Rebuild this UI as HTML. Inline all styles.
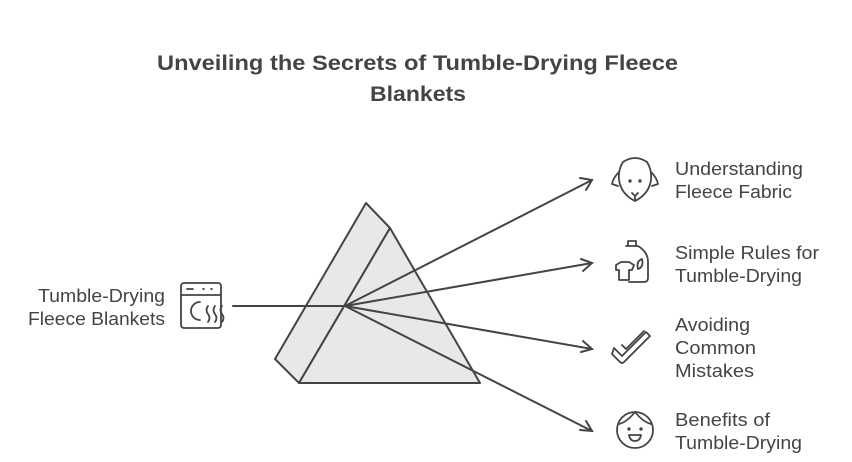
<!DOCTYPE html>
<html><head><meta charset="utf-8"><style>
body{margin:0;width:852px;height:462px;background:#fff;overflow:hidden;font-family:"Liberation Sans",sans-serif}
svg{position:absolute;left:0;top:0}
</style></head><body>
<svg width="852" height="462" viewBox="0 0 852 462" font-family="Liberation Sans, sans-serif">
<text x="157" y="70" textLength="521" lengthAdjust="spacingAndGlyphs" font-size="21" font-weight="bold" fill="#444">Unveiling the Secrets of Tumble-Drying Fleece</text>
<text x="370" y="101" textLength="96" lengthAdjust="spacingAndGlyphs" font-size="21" font-weight="bold" fill="#444">Blankets</text>
<g stroke="#444" stroke-width="2" fill="#e8e8e8" stroke-linejoin="round">
<polygon points="366,203 390,228 299,383 275,359"/>
<polygon points="390,228 480,383 299,383"/>
</g>
<g stroke="#444" stroke-width="2" fill="none" stroke-linecap="round">
<line x1="233" y1="306" x2="345" y2="306"/>
<line x1="345" y1="306" x2="592" y2="180"/>
<line x1="345" y1="306" x2="592" y2="263"/>
<line x1="345" y1="306" x2="592" y2="349"/>
<line x1="345" y1="306" x2="592" y2="431"/>
<polyline points="580,178 592,180 586,190"/>
<polyline points="581,259 592,263 583,271"/>
<polyline points="583,341 592,349 581,352"/>
<polyline points="586,421 592,431 580,430"/>
</g>
<g stroke="#444" stroke-width="1.8" fill="none" stroke-linecap="round" stroke-linejoin="round">
<rect x="181" y="283" width="40" height="45" rx="3"/>
<line x1="181" y1="295" x2="221" y2="295"/>
<line x1="187" y1="289" x2="193" y2="289"/><line x1="203" y1="289" x2="204" y2="289"/><line x1="211" y1="289" x2="212" y2="289"/>
<path d="M200 302 A9 9 0 1 0 200 320"/>
<path d="M208 306 q-3 4 0 8 q3 4 0 8 M215 306 q-3 4 0 8 q3 4 0 8 M222 306 q-3 4 0 8 q3 4 0 8"/>
<path d="M623 162 q12 -8 24 0 q5 8 4 18 q-2 14 -16 21 q-14 -7 -16 -21 q-1 -10 4 -18z"/>
<path d="M619 172 q-6 6 -7 12 l6 2 M651 172 q6 6 7 12 l-6 2"/>
<circle cx="630" cy="181" r="0.8"/><circle cx="640" cy="181" r="0.8"/>
<path d="M632 193 l3 3 l3 -3 M635 196 v5"/>
<path d="M628 241 h8 v5 h-8z M626 246 h12 q10 6 10 16 v16 q0 4 -4 4 h-15"/>
<path d="M642 259 q-6 2 -4 10 q6 -2 4 -10z"/>
<path d="M616 265 l5 -3 h8 l5 3 l-2 5 h-3 v10 h-10 v-10 h-3z"/>
<path d="M614 348 l8 8 l24 -24 l4 4 l-26 26 q-2 2 -4 0 l-8 -8z"/>
<path d="M622 345 l4 4 l18 -18"/>
<circle cx="635" cy="430" r="18"/>
<path d="M619 424 q8 -2 16 -12 q8 10 16 12"/>
<circle cx="629" cy="429" r="0.8"/><circle cx="641" cy="429" r="0.8"/>
<path d="M629 435 h12 q-1 6 -6 6 q-5 0 -6 -6z"/>
</g>
<g font-size="18" fill="#444" lengthAdjust="spacingAndGlyphs">
<text x="38" y="302" textLength="127" lengthAdjust="spacingAndGlyphs">Tumble-Drying</text>
<text x="28" y="325" textLength="137" lengthAdjust="spacingAndGlyphs">Fleece Blankets</text>
<text x="675" y="175" textLength="128" lengthAdjust="spacingAndGlyphs">Understanding</text>
<text x="675" y="198" textLength="117" lengthAdjust="spacingAndGlyphs">Fleece Fabric</text>
<text x="675" y="259" textLength="144" lengthAdjust="spacingAndGlyphs">Simple Rules for</text>
<text x="675" y="282" textLength="127" lengthAdjust="spacingAndGlyphs">Tumble-Drying</text>
<text x="675" y="331" textLength="75" lengthAdjust="spacingAndGlyphs">Avoiding</text>
<text x="675" y="354" textLength="81" lengthAdjust="spacingAndGlyphs">Common</text>
<text x="675" y="377" textLength="79" lengthAdjust="spacingAndGlyphs">Mistakes</text>
<text x="675" y="426" textLength="95" lengthAdjust="spacingAndGlyphs">Benefits of</text>
<text x="675" y="449" textLength="127" lengthAdjust="spacingAndGlyphs">Tumble-Drying</text>
</g>
</svg>
</body></html>
